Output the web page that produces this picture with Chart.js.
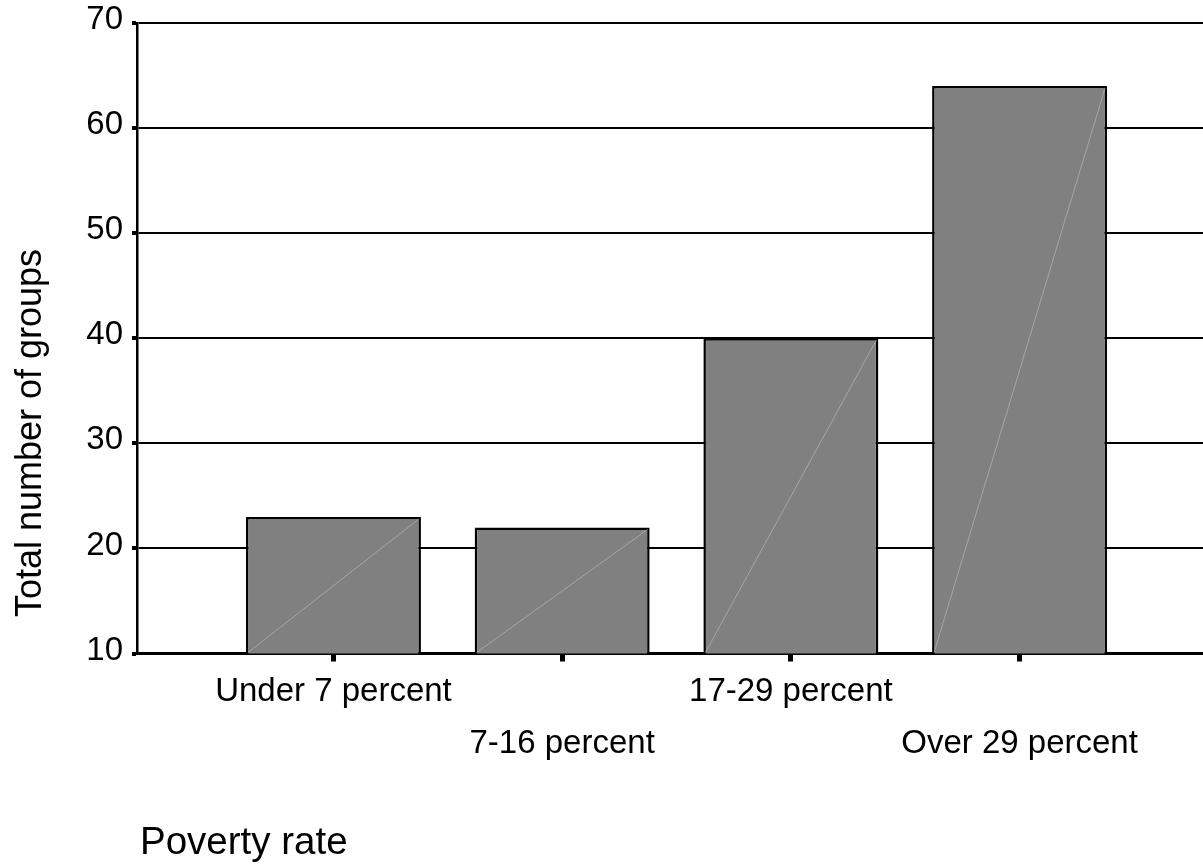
<!DOCTYPE html>
<html>
<head>
<meta charset="utf-8">
<script src="https://cdn.jsdelivr.net/npm/chart.js@4"></script>
<style>
  html, body { margin: 0; padding: 0; background: #fff; }
  #wrap { width: 1203px; height: 867px; }
</style>
</head>
<body>
<div id="wrap"><canvas id="chart"></canvas></div>
<script>
// Data
const categories = ['Under 7 percent', '7-16 percent', '17-29 percent', 'Over 29 percent'];
const groupCounts = [23, 22, 40, 64];
const yTicks = [10, 20, 30, 40, 50, 60, 70];

const FONT = "'Liberation Sans', Arial, sans-serif";

// Axis titles, placed by hand like the original
const axisTitles = {
  id: 'axisTitles',
  afterDraw(chart) {
    const ctx = chart.ctx;
    ctx.save();
    ctx.fillStyle = '#000';
    ctx.font = '38.5px ' + FONT;
    ctx.textAlign = 'left';
    ctx.textBaseline = 'alphabetic';
    ctx.fillText('Poverty rate', 140, 854);

    ctx.font = '36px ' + FONT;
    ctx.translate(41, 433);
    ctx.rotate(-Math.PI / 2);
    ctx.textAlign = 'center';
    ctx.fillText('Total number of groups', 0, 0);
    ctx.restore();
  }
};

// Faint diagonal inside every bar (seen in the original)
const barDiagonals = {
  id: 'barDiagonals',
  afterDatasetsDraw(chart) {
    const ctx = chart.ctx;
    const bottom = chart.chartArea.bottom;
    const meta = chart.getDatasetMeta(0);
    ctx.save();
    ctx.strokeStyle = 'rgba(175, 175, 175, 0.8)';
    ctx.lineWidth = 1;
    meta.data.forEach(bar => {
      const p = bar.getProps(['x', 'y', 'base', 'width'], true);
      const base = Math.min(p.base, bottom);
      ctx.beginPath();
      ctx.moveTo(p.x - p.width / 2 + 2, base - 1);
      ctx.lineTo(p.x + p.width / 2 - 2, p.y + 2);
      ctx.stroke();
    });
    ctx.restore();
  }
};

new Chart(document.getElementById('chart'), {
  type: 'bar',
  data: {
    datasets: [{
      data: groupCounts.map((v, i) => ({ x: i, y: v })),
      backgroundColor: '#808080',
      borderColor: '#000',
      borderWidth: 2.5,
      barPercentage: 0.765,
      categoryPercentage: 1
    }]
  },
  options: {
    responsive: true,
    maintainAspectRatio: false,
    animation: false,
    layout: { padding: { top: 23, left: 0, right: 0, bottom: 0 } },
    plugins: {
      legend: { display: false },
      tooltip: { enabled: false }
    },
    scales: {
      x: {
        type: 'linear',
        min: -0.859,
        max: 3.802,
        offset: false,
        afterBuildTicks: s => { s.ticks = categories.map((c, i) => ({ value: i })); },
        afterFit: s => { s.height = 213.5; },
        grid: {
          offset: false,
          drawOnChartArea: false,
          tickLength: 8,
          tickWidth: 5,
          tickColor: '#000'
        },
        border: { display: true, color: '#000', width: 2.5 },
        ticks: {
          color: '#000',
          padding: 4,
          maxRotation: 0,
          autoSkip: false,
          font: { family: FONT, size: 33, lineHeight: 1.58 },
          callback: v => (v % 2 === 0 ? categories[v] : ['', categories[v]])
        }
      },
      y: {
        min: 10,
        max: 70,
        afterBuildTicks: s => { s.ticks = yTicks.map(v => ({ value: v })); },
        afterFit: s => { s.width = 137; },
        grid: {
          color: '#000',
          lineWidth: 2,
          tickLength: 5,
          tickWidth: 4,
          tickColor: '#000'
        },
        border: { display: true, color: '#000', width: 2.5 },
        ticks: {
          color: '#000',
          padding: 9,
          labelOffset: -3,
          font: { family: FONT, size: 33, lineHeight: 0.8 }
        }
      }
    }
  },
  plugins: [axisTitles, barDiagonals]
});
</script>
</body>
</html>
